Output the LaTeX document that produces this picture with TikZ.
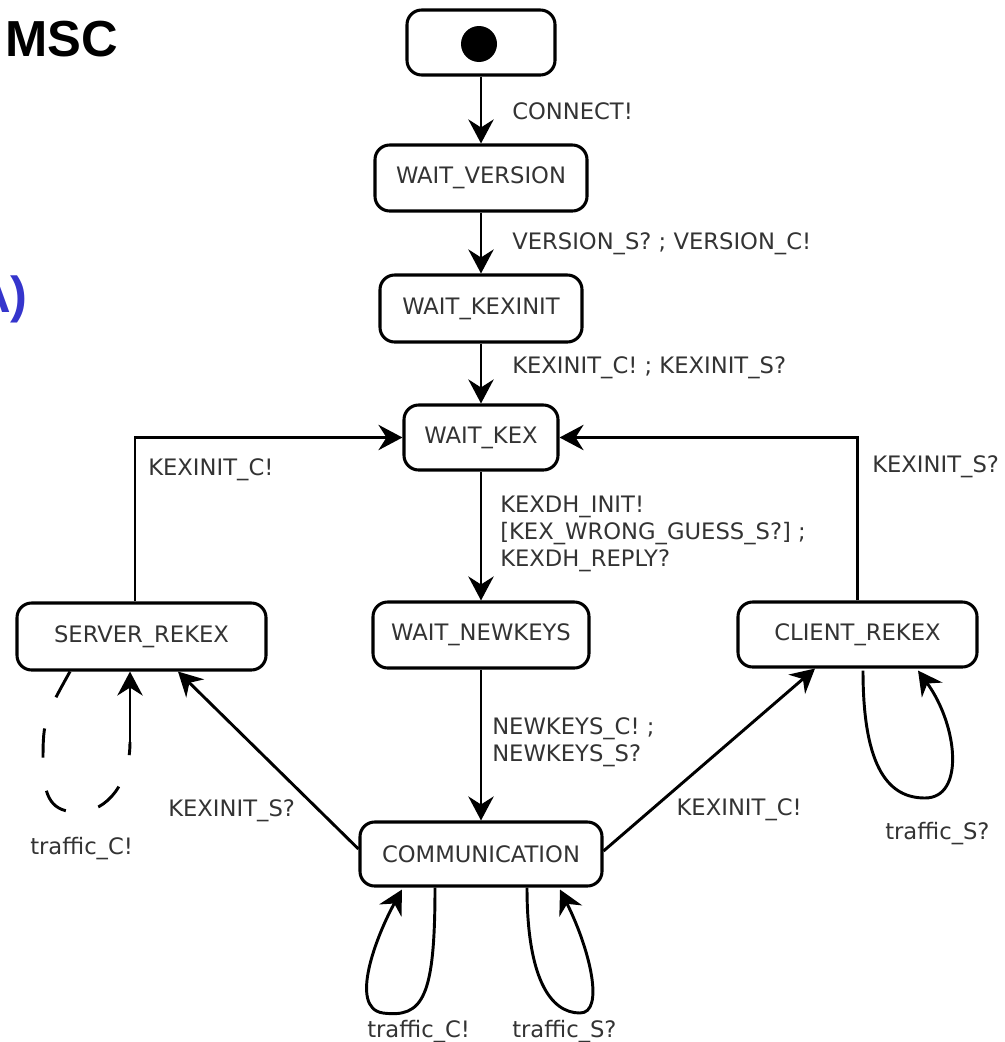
\documentclass[tikz,border=0pt]{standalone}
\usepackage{fontspec}
\setmainfont{DejaVu Sans}
\newfontfamily\titlefont{Liberation Sans}
\usetikzlibrary{arrows.meta,calc}
\definecolor{labelgray}{HTML}{333333}
\definecolor{headblue}{HTML}{3535CC}
\begin{document}
\begin{tikzpicture}[x=0.75pt,y=-0.75pt,
  state/.style={draw=black, line width=2.3pt, rounded corners=11pt, inner sep=0pt,
    text=labelgray, font=\fontsize{17pt}{20pt}\selectfont},
  lbl/.style={inner sep=0pt, text=labelgray, align=left,
    font=\fontsize{17pt}{20pt}\selectfont},
  tr/.style={line width=2.2pt, -{Stealth[length=18pt,width=19pt,inset=6pt]}},
  loopline/.style={line width=2.2pt},
]
\useasboundingbox (0,0) rectangle (1005,1042);

% headings
\node[anchor=base west, inner sep=0pt, font=\titlefont\bfseries\fontsize{38pt}{40pt}\selectfont] (title) at (5,56) {MSC};
\node[anchor=base east, inner sep=0pt, text=headblue, font=\titlefont\bfseries\fontsize{38pt}{40pt}\selectfont] (tag) at (28,312) {A)};

% states
\node[state, minimum width=111pt, minimum height=48.75pt] (start) at (481,42.5) {};
\fill (start.center) ++(-2,1.5) circle[radius=18];
\node[state, minimum width=159pt,   minimum height=49.5pt]  (wv)   at (481,178)   {WAIT\_VERSION};
\node[state, minimum width=151.5pt, minimum height=50.25pt] (wk)   at (481,308.5) {WAIT\_KEXINIT};
\node[state, minimum width=115.5pt, minimum height=48.75pt] (wkex) at (481,437.5) {WAIT\_KEX};
\node[state, minimum width=162pt,   minimum height=49.5pt]  (wn)   at (481,635)   {WAIT\_NEWKEYS};
\node[state, minimum width=181.5pt, minimum height=48pt]    (comm) at (481,854)   {COMMUNICATION};
\node[state, minimum width=186.75pt,minimum height=50.25pt] (srv)  at (141.5,636.5) {SERVER\_REKEX};
\node[state, minimum width=179.25pt,minimum height=48.75pt] (cli)  at (857.5,634.5) {CLIENT\_REKEX};

% main column
\draw[tr] (start) -- (wv);
\draw[tr] (wv) -- (wk);
\draw[tr] (wk) -- (wkex);
\draw[tr] (wkex) -- (wn);
\draw[tr] (wn) -- (comm);

% rekey transitions back to WAIT_KEX
\draw[tr] ($(srv.north)+(-6.5,0)$) |- (wkex.west);
\draw[tr] (cli.north) |- (wkex.east);

% rekey transitions out of COMMUNICATION
\draw[tr] ($(comm.west)+(0,-5)$) -- ($(srv.south)+(36.5,0)$);
\draw[tr] ($(comm.east)+(0,-3)$) -- ($(cli.south)+(-42.5,0)$);

% self loops
\draw[tr] ($(comm.south)+(-46,0)$) .. controls +(0,110) and +(40,5) .. (383,1013)
  .. controls +(-35,-5) and +(-25,45) .. ($(comm.south)+(-79,2)$);
\draw[tr] ($(comm.south)+(46,0)$) .. controls +(0,90) and +(-30,0) .. (580,1013)
  .. controls +(25,0) and +(30,60) .. ($(comm.south)+(79,2)$);
\draw[tr] ($(cli.south)+(5.5,2)$) .. controls +(0,100) and +(-35,0) .. (925,798)
  .. controls +(40,0) and +(40,55) .. ($(cli.south)+(60.5,2)$);

% dashed self loop of SERVER_REKEX
\coordinate (srvloopend) at (130,742);
\draw[loopline, dash pattern=on 22pt off 25pt] ($(srv.south)+(-71.5,0)$)
  .. controls +(-25,45) and +(0,-40) .. (43,760)
  .. controls +(0,40) and +(-25,0) .. (78,812)
  .. controls +(30,0) and +(0,40) .. (srvloopend);
\draw[tr] (srvloopend) -- (srvloopend |- srv.south);

% transition labels
\node[lbl, anchor=base west] (l1) at (512,119) {CONNECT!};
\node[lbl, anchor=base west] (l2) at (512,249) {VERSION\_S? ; VERSION\_C!};
\node[lbl, anchor=base west] (l3) at (512,373) {KEXINIT\_C! ; KEXINIT\_S?};
\node[lbl, anchor=west] (l4) at (500,534) {KEXDH\_INIT!\\{[}KEX\_WRONG\_GUESS\_S?] ;\\KEXDH\_REPLY?};
\node[lbl, anchor=west] (l5) at (492,742) {NEWKEYS\_C! ;\\NEWKEYS\_S?};
\node[lbl, anchor=base west] (l6) at (148,475) {KEXINIT\_C!};
\node[lbl, anchor=base west] (l7) at (872,472) {KEXINIT\_S?};
\node[lbl, anchor=base west] (l8) at (168,816) {KEXINIT\_S?};
\node[lbl, anchor=base east] (l9) at (802,815) {KEXINIT\_C!};
\node[lbl, anchor=base west] (l10) at (30,854) {traffic\_C!};
\node[lbl, anchor=base west] (l11) at (885,839) {traffic\_S?};
\node[lbl, anchor=base west] (l12) at (367,1037) {traffic\_C!};
\node[lbl, anchor=base west] (l13) at (512,1037) {traffic\_S?};
\end{tikzpicture}
\end{document}
